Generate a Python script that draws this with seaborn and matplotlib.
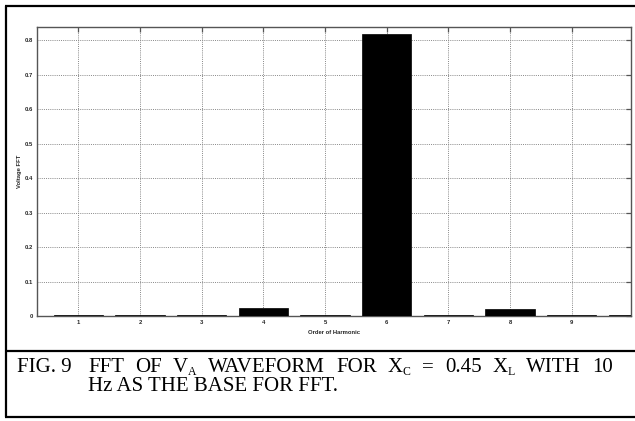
import matplotlib
matplotlib.use("Agg")
import matplotlib.pyplot as plt
from matplotlib.lines import Line2D
import seaborn as sns
import pandas as pd

# Harmonic spectrum of the phase-A voltage
orders = [1, 2, 3, 4, 5, 6, 7, 8, 9, 10]
voltage_fft = [0.003, 0.003, 0.003, 0.023, 0.004, 0.817, 0.003, 0.022, 0.003, 0.004]
tick_orders = [1, 2, 3, 4, 5, 6, 7, 8, 9]
y_ticks = [0, 0.1, 0.2, 0.3, 0.4, 0.5, 0.6, 0.7, 0.8]
y_tick_labels = ["0", "0.1", "0.2", "0.3", "0.4", "0.5", "0.6", "0.7", "0.8"]

# Caption words: (main text, subscript)
caption_label = "FIG. 9"
caption_line1 = [("FFT", ""), ("OF", ""), ("V", "A"), ("WAVEFORM", ""), ("FOR", ""),
                 ("X", "C"), ("=", ""), ("0.45", ""), ("X", "L"), ("WITH", ""), ("10", "")]
caption_line2 = "Hz AS THE BASE FOR FFT."

df = pd.DataFrame({"order": orders, "fft": voltage_fft})

sns.set_style("white")
plt.rcParams["font.family"] = ["Liberation Sans", "DejaVu Sans"]

W, H = 635, 421
fig = plt.figure(figsize=(W / 100, H / 100), dpi=100)
ax = fig.add_axes([37.3 / W, 1 - 316.3 / H, (630.7 - 37.3) / W, (316.3 - 26.7) / H])

sns.barplot(data=df, x="order", y="fft", native_scale=True, width=0.8,
            color="black", saturation=1, edgecolor="black", linewidth=0.5, ax=ax)
for p in ax.patches:
    p.set_zorder(3)

ax.set_xlim(0.335, 9.955)
ax.set_ylim(0, 0.8385)
ax.set_xticks(tick_orders)
ax.set_xticklabels([str(t) for t in tick_orders])
ax.set_yticks(y_ticks)
ax.set_yticklabels(y_tick_labels)

ax.set_axisbelow(True)
ax.grid(True, linestyle=(0, (1, 1.2)), color="#888888", linewidth=0.7)

for s in ax.spines.values():
    s.set_visible(True)
    s.set_color("#555555")
    s.set_linewidth(1.0)
    s.set_zorder(2.5)

ax.tick_params(axis="both", which="both", direction="in", length=3.5, width=0.9,
               color="#555555", top=True, right=True, labelsize=4.2, pad=3)
for lab in ax.get_xticklabels() + ax.get_yticklabels():
    lab.set_fontweight("bold")

ax.set_xlabel("Order of Harmonic", fontsize=4.2, fontweight="bold", labelpad=3)
ax.set_ylabel("Voltage FFT", fontsize=4.2, fontweight="bold", labelpad=2)

# Caption frame
lw = 1.6
def hline(y, x0=5 / W, x1=1.02):
    fig.add_artist(Line2D([x0, x1], [1 - y / H, 1 - y / H], transform=fig.transFigure,
                          color="black", linewidth=lw, solid_capstyle="butt"))

hline(5.5)
hline(351)
hline(417)
fig.add_artist(Line2D([5.5 / W, 5.5 / W], [1 - 5.5 / H, 1 - 417 / H], transform=fig.transFigure,
                      color="black", linewidth=lw))

serif = "Liberation Serif"
main_size = 15.0
sub_size = 8.5
renderer = fig.canvas.get_renderer()


def text_width(s, size):
    t = fig.text(0, 0, s, family=serif, fontsize=size)
    w = t.get_window_extent(renderer).width
    t.remove()
    return w


def put(x_px, y_px, s, size, dy=0.0):
    fig.text(x_px / W, 1 - (y_px + dy) / H, s, family=serif, fontsize=size,
             color="black", va="baseline", ha="left")


base1, base2 = 372, 391
put(17, base1, caption_label, main_size)

# Justified first line between the caption indent and the right margin
x_start, x_end = 88, 613
widths = []
for word, sub in caption_line1:
    w = text_width(word, main_size)
    ws = text_width(sub, sub_size) if sub else 0.0
    widths.append((w, ws))
total = sum(w + ws for w, ws in widths)
gap = (x_end - x_start - total) / (len(caption_line1) - 1)
x = x_start
for (word, sub), (w, ws) in zip(caption_line1, widths):
    put(x, base1, word, main_size)
    if sub:
        put(x + w, base1, sub, sub_size, dy=3.0)
    x += w + ws + gap

put(88, base2, caption_line2, main_size)

fig.savefig("out.png", dpi=100)
